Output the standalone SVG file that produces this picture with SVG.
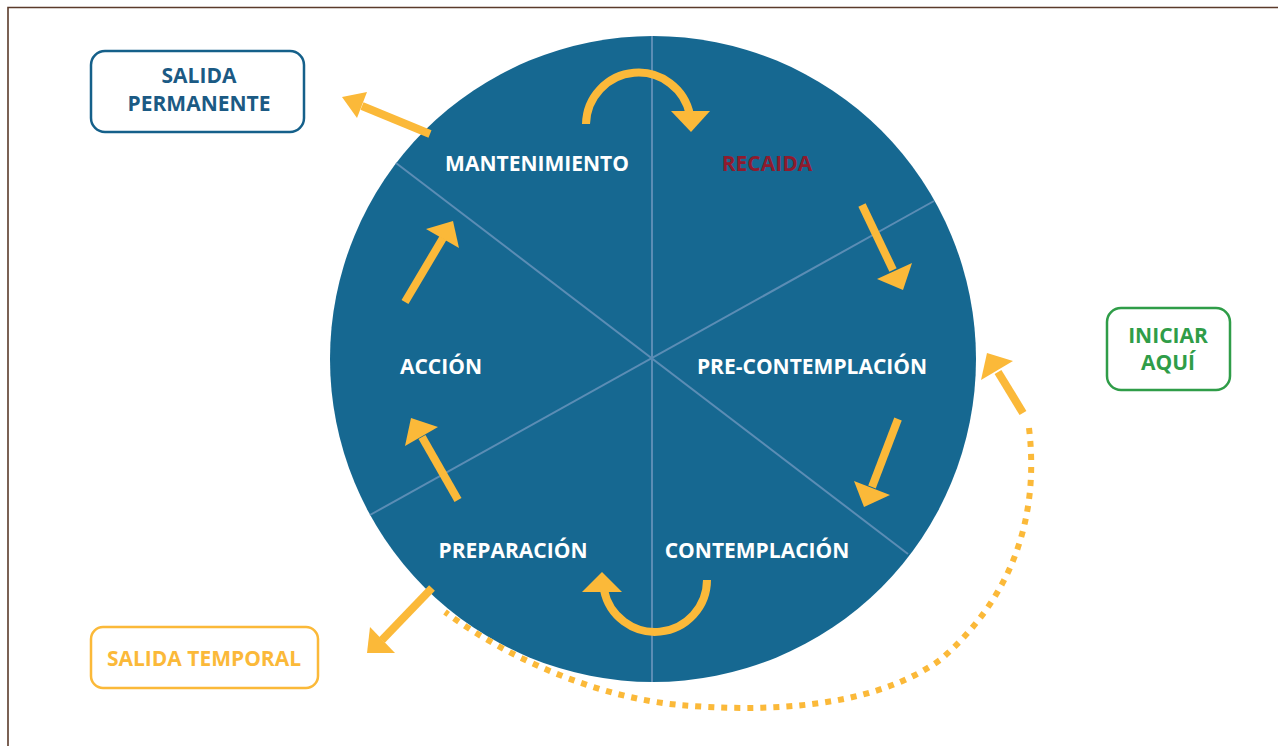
<svg xmlns="http://www.w3.org/2000/svg" width="1278" height="746" viewBox="0 0 1278 746">
<style>
.lbl{font-family:"Open Sans","Liberation Sans",sans-serif;font-weight:700;font-size:21px;text-anchor:middle}
.w{fill:#ffffff}
.div{stroke:#5b8db5;stroke-width:2;fill:none}
.arr{stroke:#fbb939;stroke-width:8;fill:none}
.head{fill:#fbb939}
.box{fill:#ffffff;stroke-width:2.5}
</style>
<rect width="1278" height="746" fill="#ffffff"/>
<path d="M8,746 V7.5 H1278" fill="none" stroke="#5b3b2b" stroke-width="1.6"/>

<g id="wheel">
<circle cx="653" cy="359" r="323" fill="#166891"/>
<line class="div" x1="652" y1="36" x2="652" y2="682"/>
<line class="div" x1="396" y1="163" x2="908" y2="554"/>
<line class="div" x1="370" y1="515" x2="934" y2="201"/>
</g>

<g id="mantenimiento"><text class="lbl w" x="537" y="171">MANTENIMIENTO</text></g>
<g id="recaida"><text class="lbl" x="767" y="171" fill="#8e1b2e">RECAIDA</text></g>
<g id="precontemplacion"><text class="lbl w" x="812" y="374">PRE-CONTEMPLACIÓN</text></g>
<g id="accion"><text class="lbl w" x="441" y="374">ACCIÓN</text></g>
<g id="preparacion"><text class="lbl w" x="513" y="558">PREPARACIÓN</text></g>
<g id="contemplacion"><text class="lbl w" x="757" y="558">CONTEMPLACIÓN</text></g>

<g id="salida-permanente">
<rect class="box" x="91" y="51" width="213" height="81" rx="14" stroke="#15608a"/>
<text class="lbl" x="199" y="83" fill="#1b5a84">SALIDA</text>
<text class="lbl" x="199" y="111" fill="#1b5a84">PERMANENTE</text>
</g>
<g id="iniciar-aqui">
<rect class="box" x="1107" y="308" width="123" height="82" rx="14" stroke="#2f9d48"/>
<text class="lbl" x="1168" y="343" fill="#2f9d48">INICIAR</text>
<text class="lbl" x="1168" y="370" fill="#2f9d48">AQUÍ</text>
</g>
<g id="salida-temporal">
<rect class="box" x="91" y="627" width="227" height="61" rx="12" stroke="#fbb939"/>
<text class="lbl" x="204" y="666" fill="#fbb939">SALIDA TEMPORAL</text>
</g>

<g id="connectors">
<!-- top curved -->
<path class="arr" d="M586,124 A52.5,52.5 0 0 1 690,115"/>
<polygon class="head" points="671,111 710,111 691,132"/>
<!-- recaida -> pre -->
<line class="arr" x1="862" y1="205" x2="893" y2="270"/>
<polygon class="head" points="877,279 912,263 903,290"/>
<!-- pre -> contemplacion -->
<line class="arr" x1="898" y1="419" x2="872" y2="487"/>
<polygon class="head" points="854,481 890,495 864,507"/>
<!-- bottom curved -->
<path class="arr" d="M707,580 A52,52 0 0 1 604,590"/>
<polygon class="head" points="582,592 622,592 602,572"/>
<!-- preparacion -> accion -->
<line class="arr" x1="458" y1="500" x2="422" y2="437"/>
<polygon class="head" points="405,446 438,427 411,418"/>
<!-- accion -> mantenimiento -->
<line class="arr" x1="405" y1="302" x2="443" y2="238"/>
<polygon class="head" points="426,229 459,248 453,221"/>
<!-- salida permanente -->
<line class="arr" x1="430" y1="134" x2="362" y2="106"/>
<polygon class="head" points="367,92 357,118 342,97"/>
<!-- salida temporal -->
<line class="arr" x1="432" y1="588" x2="382" y2="640"/>
<polygon class="head" points="370,627 395,653 367,653"/>
<!-- iniciar -->
<line class="arr" x1="1023" y1="413" x2="998" y2="372"/>
<polygon class="head" points="981,380 1013,361 987,353"/>
<!-- dotted return -->
<path d="M1029,428 C1040,520 1010,600 940,660 C870,710 760,712 680,705 C600,698 510,660 445,612" fill="none" stroke="#fbb939" stroke-width="6" stroke-dasharray="6 7"/>
</g>
</svg>
